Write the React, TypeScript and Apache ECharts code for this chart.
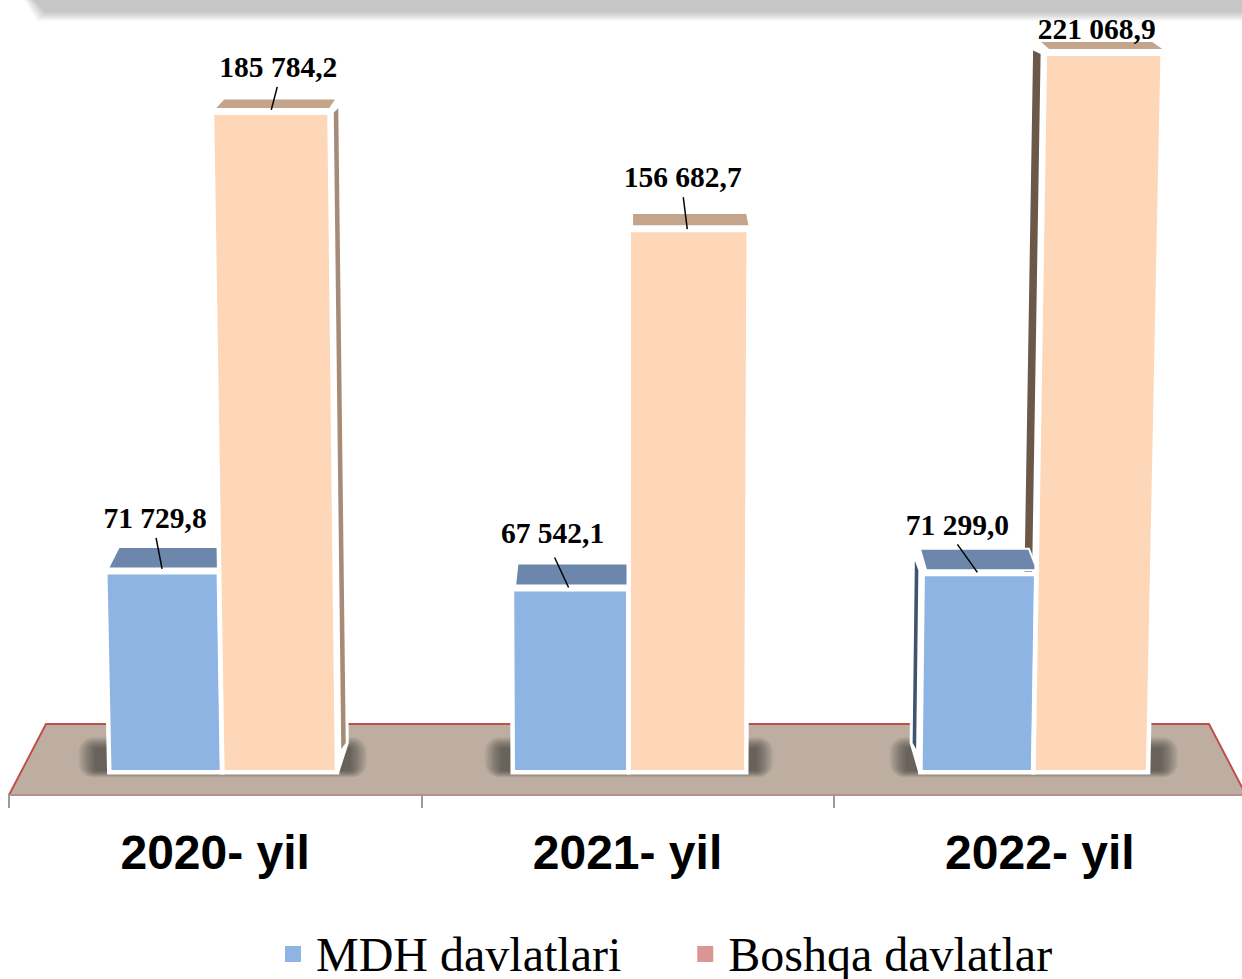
import React, { useEffect, useRef } from "react";
import * as echarts from "echarts";

const categories = ["2020- yil", "2021- yil", "2022- yil"];
const mdhValues = [71729.8, 67542.1, 71299.0];
const boshqaValues = [185784.2, 156682.7, 221068.9];
const legendNames = ["MDH davlatlari", "Boshqa davlatlar"];

// The value axis: the tallest bar runs past axisMax in the reference and is clamped to the top of the plot.
const axisMin = 17054;
const axisMax = 200400;
const barFootValue = 23257;

// Perspective of the drawing
const vanishX = 628;
const groupShift = [6, 0, -7.5];
const groupScale = [0.975, 1, 0.975];
const skewPerPx = 3.9e-5;
const capPull = 0.019;

const barSpans = [
  [-112.5, -1.5],
  [3.5, 116.5],
];
const faceColors = ["#8eb4e3", "#fdd7b8"];
const capColors = ["#6c87ab", "#c4a48b"];
const legendColors = ["#8eb4e3", "#d99694"];

// [label dx, label dy, line x1, line y1, line x2, line y2] relative to the middle of the face's top edge
const labelLayout = [
  [
    [-7, -56.7, -6, -36.7, 0, -5.7],
    [-17.5, -58.5, -15.5, -34, -1.5, -4],
    [-22, -51, -22, -32, -2, -4],
  ],
  [
    [7.5, -48, 6.5, -28, 0.5, -5],
    [-6, -55, -5.5, -35, -1.5, -3],
    [-7, -27, null, null, null, null],
  ],
];

// Visible side walls: [series, category, direction, width, colour]
const sideWalls = [
  [1, 0, 1, 4.5, "#a68c78"],
  [1, 2, -1, 7.5, "#6b5849"],
  [0, 2, -1, 3.5, "#3f546e"],
];

const formatValue = (v: number) => {
  const [a, b] = v.toFixed(1).split(".");
  return a.replace(/\B(?=(\d{3})+$)/g, " ") + "," + b;
};

function geometry(params: any, api: any, s: number) {
  const i = api.value(0);
  const gridTop = params.coordSys.y;
  const center = api.coord([i, barFootValue])[0];
  const baseY = api.coord([i, barFootValue])[1];
  const topY = Math.max(api.coord([i, api.value(1)])[1], gridTop);
  const c = center + groupShift[i];
  const h = baseY - topY;
  const xb = [c + barSpans[s][0] * groupScale[i], c + barSpans[s][1] * groupScale[i]];
  const xt = xb.map((x) => x + (x - vanishX) * skewPerPx * h);
  return { i, baseY, topY, xb, xt };
}

const capDepth = (y: number) => 7 + ((y - 56) / 518) * 12.5;

function renderBar(s: number) {
  return (params: any, api: any) => {
    const { i, baseY, topY, xb, xt } = geometry(params, api, s);
    const d = capDepth(topY);
    const capB = topY - 7;
    const capT = capB - d;
    const face = [
      [xt[0], topY],
      [xt[1], topY],
      [xb[1], baseY],
      [xb[0], baseY],
    ];
    const cap = [
      [xt[0] + 2, capB],
      [xt[1] + 2, capB],
      [xt[1] + 2 + (vanishX - xt[1]) * capPull, capT],
      [xt[0] + 2 + (vanishX - xt[0]) * capPull, capT],
    ];
    const mid = (xt[0] + xt[1]) / 2;
    const l = labelLayout[s][i] as any[];
    const children: any[] = [
      { type: "polygon", shape: { points: cap }, style: { fill: "#fff", stroke: "#fff", lineWidth: 4 } },
      { type: "polygon", shape: { points: face }, style: { fill: "#fff", stroke: "#fff", lineWidth: 9, lineJoin: "miter" } },
      { type: "polygon", shape: { points: cap }, style: { fill: capColors[s] } },
      { type: "polygon", shape: { points: face }, style: { fill: faceColors[s] } },
    ];
    if (l[2] !== null) {
      children.push({
        type: "line",
        shape: { x1: mid + l[2], y1: topY + l[3], x2: mid + l[4], y2: topY + l[5] },
        style: { stroke: "#000", lineWidth: 1.5 },
      });
    }
    children.push({
      type: "text",
      style: {
        text: formatValue(api.value(1)),
        x: mid + l[0],
        y: topY + l[1],
        align: "center",
        verticalAlign: "middle",
        fill: "#000",
        font: 'bold 29.5px "Liberation Serif"',
      },
    });
    return { type: "group", children };
  };
}

function renderWall(s: number, dir: number, w: number, color: string) {
  return (params: any, api: any) => {
    const { baseY, topY, xb, xt } = geometry(params, api, s);
    const e = dir > 0 ? 1 : 0;
    const d = capDepth(topY);
    const g = 6.5;
    const wall = [
      [xt[e] + dir * g, topY - d * 0.3],
      [xt[e] + dir * (g + w), topY - d * 0.8],
      [xb[e] + dir * (g + w), baseY - 27],
      [xb[e] + dir * g, baseY - 21],
    ];
    const white = [
      [xt[e], topY - d * 0.3],
      [xt[e] + dir * (g + w + 3), topY - d * 0.8],
      [xb[e] + dir * (g + w + 3), baseY - 27],
      [xb[e] + dir * 4, baseY + 4],
      [xb[e], baseY + 4],
    ];
    return {
      type: "group",
      children: [
        { type: "polygon", shape: { points: white }, style: { fill: "#fff" } },
        { type: "polygon", shape: { points: wall }, style: { fill: color } },
      ],
    };
  };
}

function renderFloor(params: any) {
  const { x, y, width, height } = params.coordSys;
  const b = y + height;
  const t = b - 71;
  const inset = 37;
  const pts = [
    [x, b],
    [x + inset, t],
    [x + width - inset, t],
    [x + width, b],
  ];
  return {
    type: "group",
    children: [
      { type: "polygon", shape: { points: pts }, style: { fill: "#bdaea1" } },
      { type: "polyline", shape: { points: pts }, style: { stroke: "#c0504d", lineWidth: 2, fill: "none" } },
      { type: "line", shape: { x1: x, y1: b, x2: x + width, y2: b }, style: { stroke: "#b48f8e", lineWidth: 2 } },
    ],
  };
}

const shadowLayers = 30;

function renderShadow(params: any, api: any) {
  const i = api.value(0);
  const center = api.coord([i, barFootValue])[0];
  const baseY = api.coord([i, barFootValue])[1];
  const c = center + groupShift[i];
  const children: any[] = [];
  for (let k = shadowLayers; k >= 1; k--) {
    const t = k / 2;
    const dx = t * 1.2;
    const dt = t * 0.8;
    const db = t * 0.5;
    children.push({
      type: "rect",
      shape: { x: c - 125 - dx, y: baseY - 21 - dt, width: 253 + 2 * dx, height: 21 + dt + db, r: t },
      style: { fill: "rgba(60,50,45,0.024)" },
    });
  }
  return { type: "group", children };
}

const headerLayers = Array.from({ length: 10 }, (_, k) => ({
  type: "polygon",
  silent: true,
  shape: {
    points: [
      [32 - k, -2],
      [1262, -2],
      [1262, 12 + k],
      [46 - k, 12 + k],
    ],
  },
  style: { fill: "rgba(0,0,0,0.023)" },
}));

export default function App() {
  const ref = useRef<HTMLDivElement>(null);
  useEffect(() => {
    document.body.style.margin = "0";
    document.body.style.background = "#fff";
    const chart = echarts.init(ref.current!, undefined, { renderer: "svg" });
    const asData = (vals: number[]) => vals.map((v, i) => [i, v]);
    const enc = { x: 0, y: 1 };
    chart.setOption({
      animation: false,
      backgroundColor: "#fff",
      tooltip: { show: false },
      grid: { left: 9, top: 56, width: 1237, height: 739 },
      xAxis: {
        type: "category",
        data: categories,
        axisLine: { show: true, lineStyle: { color: "#b48f8e", width: 2 } },
        axisTick: { show: true, length: 13, lineStyle: { color: "#9a9a9a", width: 2 } },
        axisLabel: {
          margin: 33,
          color: "#000",
          fontSize: 48,
          fontWeight: "bold",
          fontFamily: '"Liberation Sans"',
        },
        splitLine: { show: false },
      },
      yAxis: { type: "value", min: axisMin, max: axisMax, show: false, splitLine: { show: false } },
      legend: {
        data: legendNames.map((name, k) => ({ name, icon: "rect", itemStyle: { color: legendColors[k] } })),
        left: 285,
        top: 930,
        padding: 0,
        itemWidth: 16,
        itemHeight: 16,
        itemGap: 76,
        selectedMode: false,
        textStyle: { fontFamily: '"Liberation Serif"', fontSize: 48, color: "#000", padding: [0, 0, 0, 10] },
      },
      graphic: headerLayers,
      series: [
        { type: "custom", name: "floor", data: [[0, barFootValue]], encode: enc, renderItem: renderFloor, silent: true },
        { type: "custom", name: "shadow", data: asData(mdhValues), encode: enc, renderItem: renderShadow, silent: true },
        ...sideWalls.map(([s, i, dir, w, color]: any[]) => ({
          type: "custom",
          name: "wall" + s + i,
          data: [[i, (s === 0 ? mdhValues : boshqaValues)[i]]],
          encode: enc,
          renderItem: renderWall(s, dir, w, color),
          silent: true,
        })),
        { type: "custom", name: legendNames[0], data: asData(mdhValues), encode: enc, renderItem: renderBar(0), silent: true },
        { type: "custom", name: legendNames[1], data: asData(boshqaValues), encode: enc, renderItem: renderBar(1), silent: true },
      ],
    });
    return () => chart.dispose();
  }, []);
  return (
    <div style={{ width: 1242, height: 979, overflow: "hidden" }}>
      <div ref={ref} style={{ width: 1262, height: 979 }} />
    </div>
  );
}
